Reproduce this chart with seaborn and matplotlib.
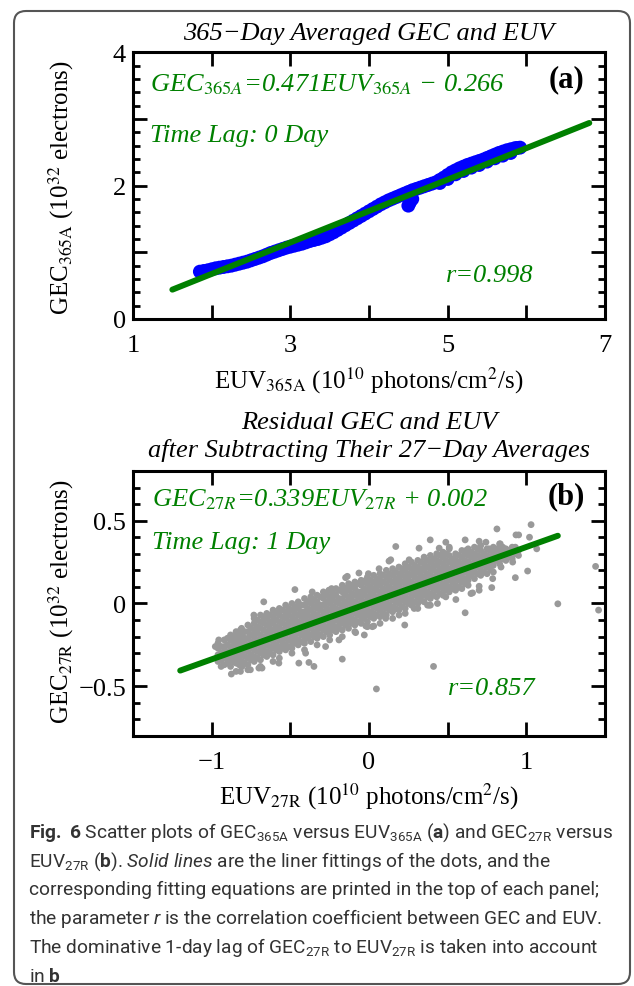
import matplotlib
matplotlib.use('Agg')
import matplotlib.pyplot as plt
import seaborn as sns
from matplotlib import font_manager as fm
from matplotlib.patches import FancyBboxPatch
from matplotlib.ticker import MultipleLocator

# ---------------- data ----------------
# panel (a): 365-day averaged EUV vs GEC (points read along the band)
euv365 = [1.85, 1.90, 1.95, 2.00, 2.05, 2.10, 2.15, 2.20, 2.25, 2.30, 2.35, 2.40,
          2.45, 2.50, 2.55, 2.60, 2.65, 2.70, 2.75, 2.80, 2.85, 2.90, 2.95, 3.00,
          3.05, 3.10, 3.15, 3.20, 3.25, 3.30, 3.35, 3.40, 3.45, 3.50, 3.55, 3.60,
          3.65, 3.70, 3.75, 3.80, 3.85, 3.90, 3.95, 4.00, 4.05, 4.10, 4.15, 4.20,
          4.25, 4.30, 4.35, 4.40, 4.45, 4.50, 4.55, 4.60, 4.65, 4.70, 4.75, 4.80,
          4.85, 4.90, 4.95, 5.00, 5.05, 5.10, 5.15, 5.20, 5.25, 5.30, 5.35, 5.40,
          5.45, 5.50, 5.55, 5.60, 5.65, 5.70, 5.75, 5.80, 5.85, 5.88, 5.92,
          4.50, 4.52, 4.55,
          4.90, 5.00, 5.10, 5.20, 5.30, 5.40, 5.50, 5.60, 5.70, 5.80]
gec365 = [0.71, 0.72, 0.73, 0.745, 0.76, 0.77, 0.78, 0.79, 0.80, 0.815, 0.83, 0.845,
          0.86, 0.88, 0.90, 0.92, 0.94, 0.965, 0.99, 1.01, 1.03, 1.05, 1.07, 1.085,
          1.10, 1.115, 1.13, 1.15, 1.17, 1.185, 1.20, 1.22, 1.24, 1.27, 1.30, 1.335,
          1.37, 1.405, 1.44, 1.475, 1.51, 1.545, 1.58, 1.615, 1.65, 1.685, 1.72, 1.75,
          1.78, 1.805, 1.83, 1.855, 1.88, 1.905, 1.93, 1.95, 1.97, 1.99, 2.01, 2.03,
          2.05, 2.085, 2.12, 2.16, 2.20, 2.23, 2.26, 2.285, 2.31, 2.33, 2.35, 2.37,
          2.39, 2.415, 2.44, 2.465, 2.49, 2.51, 2.53, 2.545, 2.56, 2.565, 2.57,
          1.70, 1.75, 1.80,
          2.04, 2.10, 2.17, 2.22, 2.27, 2.31, 2.36, 2.41, 2.45, 2.49]
fit_a_x = [1.5, 6.8]
fit_a_y = [0.44, 2.94]

# panel (b): residual EUV vs GEC (columns of dots)
b_columns = [
    (-0.96, [-0.31, -0.27, -0.35, -0.24]),
    (-0.94, [-0.30, -0.34, -0.26, -0.38]),
    (-0.92, [-0.29, -0.33, -0.26, -0.37, -0.22]),
    (-0.90, [-0.29, -0.32, -0.25, -0.36, -0.21]),
    (-0.88, [-0.30, -0.26, -0.34, -0.22, -0.38, -0.19]),
    (-0.86, [-0.27, -0.31, -0.23, -0.35, -0.20]),
    (-0.845, [-0.28, -0.24, -0.32, -0.20, -0.36, -0.17, -0.41]),
    (-0.825, [-0.26, -0.30, -0.22, -0.34, -0.18, -0.37]),
    (-0.81, [-0.27, -0.23, -0.31, -0.19, -0.35, -0.15, -0.38]),
    (-0.79, [-0.24, -0.28, -0.21, -0.32, -0.17, -0.36]),
    (-0.77, [-0.25, -0.21, -0.29, -0.17, -0.33, -0.13, -0.37, -0.40]),
    (-0.75, [-0.23, -0.27, -0.19, -0.31, -0.15, -0.34]),
    (-0.73, [-0.24, -0.20, -0.28, -0.16, -0.32, -0.12, -0.35, -0.09]),
    (-0.71, [-0.22, -0.25, -0.18, -0.29, -0.14, -0.33, -0.10]),
    (-0.69, [-0.23, -0.19, -0.26, -0.15, -0.30, -0.11, -0.34, -0.07, -0.38]),
    (-0.67, [-0.20, -0.24, -0.16, -0.28, -0.12, -0.31, -0.08]),
    (-0.65, [-0.21, -0.17, -0.25, -0.13, -0.29, -0.09, -0.32, -0.06]),
    (-0.63, [-0.19, -0.22, -0.15, -0.26, -0.11, -0.30, -0.07]),
    (-0.61, [-0.20, -0.16, -0.23, -0.12, -0.27, -0.08, -0.31, -0.04, -0.35]),
    (-0.59, [-0.17, -0.21, -0.14, -0.25, -0.10, -0.28, -0.06]),
    (-0.57, [-0.19, -0.15, -0.22, -0.11, -0.26, -0.07, -0.29, -0.03, -0.33]),
    (-0.55, [-0.16, -0.20, -0.12, -0.23, -0.08, -0.27, -0.04]),
    (-0.53, [-0.17, -0.13, -0.21, -0.09, -0.25, -0.05, -0.28, -0.01]),
    (-0.51, [-0.15, -0.18, -0.11, -0.22, -0.07, -0.26, -0.03]),
    (-0.49, [-0.16, -0.12, -0.19, -0.08, -0.23, -0.04, -0.27, 0.00, -0.30]),
    (-0.47, [-0.13, -0.17, -0.10, -0.21, -0.06, -0.24, -0.02]),
    (-0.45, [-0.15, -0.11, -0.18, -0.07, -0.22, -0.03, -0.25, 0.01]),
    (-0.43, [-0.12, -0.16, -0.08, -0.19, -0.05, -0.23, -0.01]),
    (-0.41, [-0.13, -0.09, -0.17, -0.05, -0.20, -0.01, -0.24, 0.03, -0.28]),
    (-0.39, [-0.11, -0.14, -0.07, -0.18, -0.03, -0.21, 0.01]),
    (-0.37, [-0.12, -0.08, -0.15, -0.04, -0.19, 0.00, -0.23, 0.04]),
    (-0.35, [-0.09, -0.13, -0.06, -0.17, -0.02, -0.20, 0.02]),
    (-0.33, [-0.11, -0.07, -0.14, -0.03, -0.18, 0.01, -0.21, 0.05, -0.25]),
    (-0.31, [-0.08, -0.12, -0.04, -0.15, -0.01, -0.19, 0.04]),
    (-0.29, [-0.09, -0.05, -0.13, -0.01, -0.16, 0.03, -0.20, 0.07]),
    (-0.27, [-0.07, -0.10, -0.03, -0.14, 0.01, -0.17, 0.05]),
    (-0.25, [-0.08, -0.04, -0.11, 0.00, -0.15, 0.04, -0.19, 0.08, -0.22]),
    (-0.23, [-0.05, -0.09, -0.02, -0.13, 0.02, -0.16, 0.06]),
    (-0.21, [-0.07, -0.03, -0.10, 0.01, -0.14, 0.05, -0.17, 0.09]),
    (-0.19, [-0.04, -0.08, 0.00, -0.11, 0.03, -0.15, 0.08]),
    (-0.17, [-0.05, -0.01, -0.09, 0.03, -0.12, 0.07, -0.16, 0.11, -0.20]),
    (-0.15, [-0.03, -0.06, 0.01, -0.10, 0.05, -0.13, 0.09]),
    (-0.13, [-0.04, 0.00, -0.08, 0.04, -0.11, 0.08, -0.15, 0.12]),
    (-0.11, [-0.01, -0.05, 0.02, -0.09, 0.06, -0.12, 0.10]),
    (-0.09, [-0.03, 0.01, -0.06, 0.05, -0.10, 0.09, -0.13, 0.13, -0.17]),
    (-0.07, [0.00, -0.04, 0.04, -0.07, 0.07, -0.11, 0.12]),
    (-0.05, [-0.01, 0.03, -0.05, 0.07, -0.08, 0.11, -0.12, 0.14]),
    (-0.03, [0.01, -0.02, 0.05, -0.06, 0.09, -0.09, 0.13]),
    (-0.01, [0.00, 0.04, -0.04, 0.08, -0.07, 0.12, -0.11, 0.16, -0.14]),
    (0.01, [0.03, -0.01, 0.06, -0.05, 0.10, -0.08, 0.14]),
    (0.03, [0.01, 0.05, -0.02, 0.09, -0.06, 0.13, -0.09, 0.17]),
    (0.05, [0.04, 0.00, 0.08, -0.03, 0.11, -0.07, 0.15]),
    (0.07, [0.03, 0.07, -0.01, 0.11, -0.04, 0.14, -0.08, 0.18, -0.12]),
    (0.09, [0.05, 0.01, 0.09, -0.02, 0.13, -0.06, 0.17]),
    (0.11, [0.04, 0.08, 0.00, 0.12, -0.03, 0.16, -0.07, 0.20]),
    (0.13, [0.07, 0.03, 0.10, -0.01, 0.14, -0.04, 0.18]),
    (0.15, [0.05, 0.09, 0.02, 0.13, -0.02, 0.17, -0.05, 0.21, -0.09]),
    (0.17, [0.08, 0.04, 0.12, 0.01, 0.15, -0.03, 0.19]),
    (0.19, [0.07, 0.11, 0.03, 0.15, 0.00, 0.18, -0.04, 0.22]),
    (0.21, [0.09, 0.06, 0.13, 0.02, 0.17, -0.02, 0.21]),
    (0.23, [0.08, 0.12, 0.04, 0.16, 0.01, 0.20, -0.03, 0.24, -0.06]),
    (0.25, [0.11, 0.07, 0.14, 0.03, 0.18, 0.00, 0.22]),
    (0.27, [0.09, 0.13, 0.06, 0.17, 0.02, 0.21, -0.01, 0.25]),
    (0.29, [0.12, 0.08, 0.16, 0.05, 0.19, 0.01, 0.23]),
    (0.31, [0.11, 0.15, 0.07, 0.19, 0.04, 0.22, 0.00, 0.26, -0.03]),
    (0.33, [0.13, 0.10, 0.17, 0.06, 0.21, 0.02, 0.25]),
    (0.35, [0.12, 0.16, 0.08, 0.20, 0.05, 0.24, 0.01, 0.28]),
    (0.37, [0.15, 0.11, 0.18, 0.07, 0.22, 0.04, 0.26]),
    (0.39, [0.13, 0.17, 0.10, 0.21, 0.06, 0.25, 0.03, 0.29, -0.01]),
    (0.41, [0.16, 0.12, 0.20, 0.09, 0.23, 0.05, 0.27]),
    (0.43, [0.15, 0.19, 0.11, 0.23, 0.08, 0.26, 0.04, 0.30]),
    (0.45, [0.17, 0.14, 0.21, 0.10, 0.25, 0.06, 0.29]),
    (0.47, [0.16, 0.20, 0.12, 0.24, 0.09, 0.28, 0.05, 0.31]),
    (0.49, [0.19, 0.15, 0.22, 0.11, 0.26, 0.08, 0.30]),
    (0.51, [0.17, 0.21, 0.14, 0.25, 0.10, 0.29, 0.07, 0.33]),
    (0.53, [0.20, 0.16, 0.24, 0.13, 0.27, 0.09]),
    (0.55, [0.19, 0.23, 0.15, 0.26, 0.11, 0.30, 0.08]),
    (0.57, [0.21, 0.18, 0.25, 0.14, 0.29, 0.10]),
    (0.59, [0.20, 0.24, 0.16, 0.28, 0.13, 0.32, 0.09]),
    (0.61, [0.23, 0.19, 0.26, 0.15, 0.30, 0.12]),
    (0.63, [0.21, 0.25, 0.18, 0.29, 0.14, 0.33, 0.11]),
    (0.65, [0.24, 0.20, 0.28, 0.17, 0.31]),
    (0.67, [0.23, 0.27, 0.19, 0.30, 0.15, 0.34]),
    (0.69, [0.25, 0.22, 0.29, 0.18, 0.33]),
    (0.71, [0.24, 0.28, 0.20, 0.32, 0.17, 0.35]),
    (0.73, [0.27, 0.23, 0.30, 0.19]),
    (0.75, [0.25, 0.29, 0.22, 0.33, 0.18]),
    (0.77, [0.28, 0.24, 0.32, 0.21]),
    (0.79, [0.27, 0.31, 0.23, 0.34, 0.19]),
    (0.81, [0.29, 0.26, 0.33]),
    (0.83, [0.28, 0.32, 0.24, 0.36]),
    (0.85, [0.31, 0.27, 0.34]),
    (0.87, [0.29, 0.26, 0.33]),
    (0.89, [0.32, 0.29]),
    (0.91, [0.31, 0.27, 0.34]),
    (0.93, [0.30, 0.34]),
    (0.95, [0.32, 0.29]),
]
# isolated and edge dots
b_out_x = [1.03, 0.813, 0.934, 0.951, 1.02, 1.066, 1.008, 0.93, 1.20, 1.44, 1.459,
           0.17, 0.389, 0.488, 0.611, 0.70, 0.743, 0.834, -0.471, -0.669, -0.732,
           -0.817, -0.955, -0.977, -0.88, -0.875, -0.817, -0.754, -0.68, -0.382,
           -0.35, -0.17, 0.41, 0.047, 0.227, 0.611, 0.552, 0.658, 0.70, 0.78,
           0.372, 0.435, 0.287, 0.03, -0.03, -0.02, -0.138, -0.159, -0.238,
           -0.004, 0.127,
           -0.149, -0.064, 0.064, 0.138, 0.255, 0.318, 0.446, 0.51, 0.616, 0.764,
           0.87, 0.913, 0.839, 0.786, 0.70, 0.648, 0.488, 0.382, 0.191, 0.106,
           0.021, -0.085, -0.191, -0.276, -0.403, -0.446, -0.573, -0.70, -0.807,
           -0.913, -0.807, -0.658, -0.573, -0.467, -0.35, -0.255, -0.361, -0.106,
           -0.021]
b_out_y = [0.476, 0.45, 0.414, 0.414, 0.40, 0.33, 0.196, 0.156, -0.002, 0.224, -0.04,
           0.344, 0.384, 0.37, 0.384, 0.376, 0.37, 0.36, 0.084, 0.01, -0.07,
           -0.16, -0.22, -0.26, -0.32, -0.426, -0.41, -0.40, -0.39, -0.356,
           -0.38, -0.336, -0.38, -0.516, -0.13, -0.056, 0.024, 0.064, 0.08, 0.096,
           -0.01, 0.0, -0.03, -0.136, -0.19, -0.136, 0.164, 0.096, 0.09,
           0.18, 0.256,
           0.156, 0.184, 0.21, 0.264, 0.264, 0.334, 0.334, 0.34, 0.32, 0.33,
           0.29, 0.25, 0.22, 0.15, 0.104, 0.06, 0.04, -0.01, -0.07, -0.09,
           -0.14, -0.176, -0.22, -0.26, -0.30, -0.36, -0.36, -0.39, -0.38,
           -0.32, -0.18, -0.09, -0.05, -0.02, 0.02, 0.08, 0.07, 0.11,
           0.14]
fit_b_x = [-1.2, 1.2]
fit_b_y = [-0.405, 0.409]

euv27 = [cx for cx, ys in b_columns for _ in ys] + b_out_x
gec27 = [y for cx, ys in b_columns for y in ys] + b_out_y

# ---------------- style ----------------
sns.set_theme(style='ticks')
names = {f.name for f in fm.fontManager.ttflist}
cap_font = 'Roboto' if 'Roboto' in names else 'Liberation Sans'
plt.rcParams['font.family'] = ['Liberation Serif', 'DejaVu Serif']
plt.rcParams['mathtext.fontset'] = 'custom'
plt.rcParams['mathtext.rm'] = cap_font
plt.rcParams['mathtext.it'] = cap_font + ':italic'
plt.rcParams['mathtext.bf'] = cap_font + ':bold'

GREEN = '#008000'
fig = plt.figure(figsize=(6.34, 9.87), dpi=100)
fig.patch.set_facecolor('white')

axa = fig.add_axes([0.2098, 0.6758, 0.7445, 0.2702])
axb = fig.add_axes([0.2098, 0.2533, 0.7445, 0.2685])

sns.scatterplot(x=euv365, y=gec365, ax=axa, color='#0000ff', s=100, linewidth=0,
                edgecolor='none', legend=False, zorder=2)
sns.lineplot(x=fit_a_x, y=fit_a_y, ax=axa, color=GREEN, linewidth=4.3, zorder=3)

sns.scatterplot(x=euv27, y=gec27, ax=axb, color='#999999', s=24, linewidth=0,
                edgecolor='none', legend=False, zorder=2)
sns.lineplot(x=fit_b_x, y=fit_b_y, ax=axb, color=GREEN, linewidth=4.3, zorder=3)

for ax in (axa, axb):
    for s in ax.spines.values():
        s.set_linewidth(2.2)
        s.set_color('black')
    ax.set_facecolor('white')
    ax.tick_params(which='both', direction='in', top=True, right=True, width=2,
                   color='black', labelsize=19, labelcolor='black')
    ax.tick_params(which='major', length=10)
    ax.tick_params(which='minor', length=5)
    ax.tick_params(axis='x', pad=11)
    ax.tick_params(axis='y', pad=5)
    ax.set_xlabel('')
    ax.set_ylabel('')

axa.set_xlim(1, 7)
axa.set_ylim(0, 4)
axa.set_xticks([1, 2, 3, 4, 5, 6, 7])
axa.set_xticklabels(['1', '', '3', '', '5', '', '7'])
axa.set_yticks([0, 1, 2, 3, 4])
axa.set_yticklabels(['0', '', '2', '', '4'])
axa.yaxis.set_minor_locator(MultipleLocator(0.2))

axb.set_xlim(-1.5, 1.5)
axb.set_ylim(-0.8, 0.8)
axb.set_xticks([-1, -0.5, 0, 0.5, 1])
axb.set_xticklabels(['\u22121', '', '0', '', '1'])
axb.set_yticks([-0.5, 0, 0.5])
axb.set_yticklabels(['\u22120.5', '0', '0.5'])
axb.yaxis.set_minor_locator(MultipleLocator(0.1))

# annotations
ann = dict(color=GREEN, fontsize=19, fontstyle='italic', math_fontfamily='stix',
           va='baseline')
axa.text(0.036, 0.859, 'GEC$_{\\mathit{365A}}$=0.471EUV$_{\\mathit{365A}}$ \u2212 0.266',
         transform=axa.transAxes, ha='left', **ann)
axa.text(0.037, 0.668, 'Time Lag: 0 Day', transform=axa.transAxes, ha='left', **ann)
axa.text(0.849, 0.143, 'r=0.998', transform=axa.transAxes, ha='right', **ann)
axa.text(0.956, 0.871, '(a)', transform=axa.transAxes, ha='right', va='baseline',
         fontsize=22, fontweight='bold', color='black')

axb.text(0.0395, 0.872, r'GEC$_{\mathit{27R}}$=0.339EUV$_{\mathit{27R}}$ + 0.002',
         transform=axb.transAxes, ha='left', **ann)
axb.text(0.0395, 0.708, 'Time Lag: 1 Day', transform=axb.transAxes, ha='left', **ann)
axb.text(0.853, 0.158, 'r=0.857', transform=axb.transAxes, ha='right', **ann)
axb.text(0.958, 0.879, '(b)', transform=axb.transAxes, ha='right', va='baseline',
         fontsize=22, fontweight='bold', color='black')

# titles and axis labels
tkw = dict(fontsize=19, fontstyle='italic', ha='center', va='center', color='black')
fig.text(0.582, 1 - 34 / 987, '365\u2212Day Averaged GEC and EUV', **tkw)
fig.text(0.582, 1 - 423 / 987, 'Residual GEC and EUV', **tkw)
fig.text(0.582, 1 - 451 / 987, 'after Subtracting Their 27\u2212Day Averages', **tkw)

lkw = dict(fontsize=18, math_fontfamily='stix', color='black')
fig.text(0.582, 1 - 388.3 / 987,
         r'EUV$_{\mathrm{365A}}$ (10$^{10}$ photons/cm$^{2}$/s)', ha='center',
         va='baseline', **lkw)
fig.text(0.582, 1 - 805 / 987,
         r'EUV$_{\mathrm{27R}}$ (10$^{10}$ photons/cm$^{2}$/s)', ha='center',
         va='baseline', **lkw)
fig.text(61 / 634, 1 - 187.5 / 987,
         r'GEC$_{\mathrm{365A}}$ (10$^{32}$ electrons)', rotation=90, ha='center',
         va='center', **lkw)
fig.text(61 / 634, 1 - 601.5 / 987,
         r'GEC$_{\mathrm{27R}}$ (10$^{32}$ electrons)', rotation=90, ha='center',
         va='center', **lkw)

# caption
caption = [
    r'$\mathbf{Fig.}$ $\mathbf{6}$ Scatter plots of GEC$_{\mathrm{365A}}$ versus EUV$_{\mathrm{365A}}$ ($\mathbf{a}$) and GEC$_{\mathrm{27R}}$ versus',
    r'EUV$_{\mathrm{27R}}$ ($\mathbf{b}$). $\mathit{Solid\ lines}$ are the liner fittings of the dots, and the',
    'corresponding fitting equations are printed in the top of each panel;',
    r'the parameter $\mathit{r}$ is the correlation coefficient between GEC and EUV.',
    r'The dominative 1-day lag of GEC$_{\mathrm{27R}}$ to EUV$_{\mathrm{27R}}$ is taken into account',
    r'in $\mathbf{b}$',
]
for i, line in enumerate(caption):
    fig.text(29 / 634, 1 - (837.7 + 28.8 * i) / 987, line, family=cap_font,
             fontsize=13.8, color='#333333', ha='left', va='baseline',
             math_fontfamily='custom')

# rounded border
border = FancyBboxPatch((0.14, 0.02), 6.16, 9.73,
                        boxstyle='round,pad=0,rounding_size=0.12',
                        transform=fig.dpi_scale_trans, fill=False,
                        edgecolor='#555555', linewidth=1.5)
fig.patches.append(border)

fig.savefig('out.png', dpi=100, facecolor='white')
